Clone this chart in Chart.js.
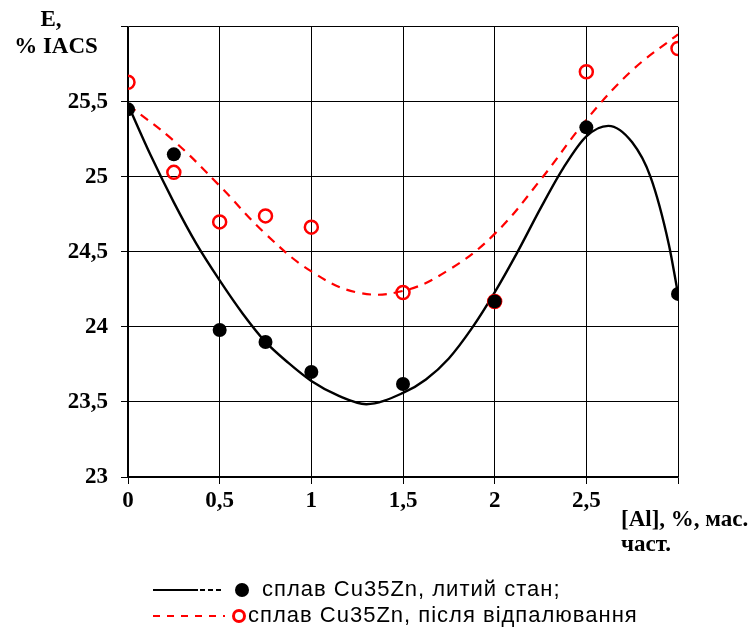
<!DOCTYPE html>
<html>
<head>
<meta charset="utf-8">
<script src="https://cdn.jsdelivr.net/npm/chart.js@4.4.1/dist/chart.umd.min.js"></script>
<style>
  html, body { margin: 0; padding: 0; background: #fff; }
  #wrap { width: 753px; height: 633px; }
</style>
</head>
<body>
<div id="wrap"><canvas id="chart" width="753" height="633"></canvas></div>
<script>
// measured points, [Al] wt.% vs E (% IACS)
var alContent = [0, 0.25, 0.5, 0.75, 1, 1.5, 2, 2.5, 3];
var eCast     = [25.45, 25.15, 23.98, 23.90, 23.70, 23.62, 24.17, 25.33, 24.22];
var eAnnealed = [25.63, 25.03, 24.70, 24.74, 24.665, 24.23, 24.17, 25.70, 25.855];

// trend curves
var trendCastX = [0, 0.125, 0.25, 0.375, 0.5, 0.625, 0.75, 0.875, 1, 1.15, 1.3, 1.5, 1.625, 1.75, 1.875, 2, 2.125, 2.25, 2.375, 2.5, 2.62, 2.75, 2.85, 2.95, 3];
var trendCastY = [25.48, 25.14, 24.83, 24.55, 24.31, 24.09, 23.9, 23.76, 23.64, 23.54, 23.485, 23.56, 23.65, 23.79, 23.99, 24.23, 24.5, 24.79, 25.06, 25.27, 25.34, 25.23, 25.0, 24.55, 24.22];
var trendAnnX = [0, 0.25, 0.5, 0.75, 1, 1.25, 1.5, 1.75, 2, 2.25, 2.5, 2.75, 3];
var trendAnnY = [25.48, 25.24, 24.94, 24.62, 24.37, 24.23, 24.24, 24.38, 24.62, 24.98, 25.38, 25.71, 25.95];

var yTicks = [23, 23.5, 24, 24.5, 25, 25.5, 26];

var legendLabels = ['сплав Cu35Zn, литий стан;', 'сплав Cu35Zn, після відпалювання'];
var yTitle = ['E,', '% IACS'];
var xTitle = ['[Al], %, мас.', 'част.'];

function pairs(xs, ys) {
  return xs.map(function (x, i) { return { x: x, y: ys[i] }; });
}

function fmt(v) {
  return String(v).replace('.', ',');
}

var serif = '"Liberation Serif", "Times New Roman", serif';
var sans = '"Liberation Sans", Arial, sans-serif';

var extras = {
  id: 'extras',
  afterDraw: function (chart) {
    var ctx = chart.ctx;
    ctx.save();
    ctx.fillStyle = '#000';
    ctx.font = 'bold 23px ' + serif;
    ctx.textBaseline = 'middle';
    ctx.textAlign = 'center';
    ctx.fillText(yTitle[0], 51, 20);
    ctx.fillText(yTitle[1], 56, 47);
    ctx.textAlign = 'left';
    ctx.fillText(xTitle[0], 621, 520);
    ctx.fillText(xTitle[1], 621, 545);

    // legend
    var rows = [590, 616];
    ctx.lineWidth = 2;
    ctx.strokeStyle = '#000';
    ctx.beginPath();
    ctx.moveTo(153, rows[0]); ctx.lineTo(198, rows[0]);
    ctx.stroke();
    ctx.setLineDash([5, 3]);
    ctx.beginPath();
    ctx.moveTo(200, rows[0]); ctx.lineTo(223, rows[0]);
    ctx.stroke();
    ctx.beginPath();
    ctx.arc(242, rows[0], 7, 0, Math.PI * 2);
    ctx.fill();

    ctx.strokeStyle = '#ff0000';
    ctx.setLineDash([7, 7]);
    ctx.beginPath();
    ctx.moveTo(153, rows[1]); ctx.lineTo(225, rows[1]);
    ctx.stroke();
    ctx.setLineDash([]);
    ctx.lineWidth = 3;
    ctx.beginPath();
    ctx.arc(239, rows[1], 5.5, 0, Math.PI * 2);
    ctx.stroke();

    ctx.fillStyle = '#000';
    ctx.font = '22px ' + sans;
    ctx.letterSpacing = '1px';
    ctx.fillText(legendLabels[0], 262, rows[0]);
    ctx.fillText(legendLabels[1], 248, rows[1]);
    ctx.restore();
  }
};

var ctx = document.getElementById('chart').getContext('2d');
new Chart(ctx, {
  type: 'scatter',
  data: {
    datasets: [
      {
        label: legendLabels[0],
        data: pairs(alContent, eCast),
        pointRadius: 7,
        pointHoverRadius: 7,
        pointBackgroundColor: '#000',
        pointBorderColor: '#000',
        pointBorderWidth: 0,
        order: 0
      },
      {
        label: legendLabels[1],
        data: pairs(alContent, eAnnealed),
        pointRadius: 6.5,
        pointHoverRadius: 6.5,
        pointBackgroundColor: 'rgba(0,0,0,0)',
        pointBorderColor: '#ff0000',
        pointBorderWidth: 2.5,
        order: 1
      },
      {
        label: 'trend cast',
        data: pairs(trendCastX, trendCastY),
        showLine: true,
        pointRadius: 0,
        borderColor: '#000',
        borderWidth: 2.4,
        cubicInterpolationMode: 'monotone',
        order: 2
      },
      {
        label: 'trend annealed',
        data: pairs(trendAnnX, trendAnnY),
        showLine: true,
        pointRadius: 0,
        borderColor: '#ff0000',
        borderWidth: 2.2,
        borderDash: [9, 7],
        tension: 0.4,
        order: 3
      }
    ]
  },
  options: {
    responsive: false,
    animation: false,
    events: [],
    layout: { padding: { top: 22, right: 75, bottom: 116, left: 0 } },
    plugins: {
      legend: { display: false },
      tooltip: { enabled: false }
    },
    scales: {
      x: {
        type: 'linear',
        min: 0,
        max: 3,
        afterFit: function (scale) { scale.height = 40; },
        ticks: {
          stepSize: 0.5,
          padding: 3,
          color: '#000',
          font: { family: serif, size: 23, weight: 'bold' },
          maxRotation: 0,
          callback: function (v) { return v === 3 ? '' : fmt(v); }
        },
        grid: { color: '#000', lineWidth: 1, tickLength: 7, tickColor: '#000' },
        border: { color: '#000', width: 1.5 }
      },
      y: {
        type: 'linear',
        min: 23,
        max: 26,
        afterFit: function (scale) { scale.width = 128; },
        afterBuildTicks: function (scale) {
          scale.ticks = yTicks.map(function (v) { return { value: v }; });
        },
        ticks: {
          padding: 13,
          color: '#000',
          font: { family: serif, size: 23, weight: 'bold' },
          callback: function (v) { return v === 26 ? '' : fmt(v); }
        },
        grid: { color: '#000', lineWidth: 1, tickLength: 7, tickColor: '#000' },
        border: { color: '#000', width: 1.5 }
      }
    }
  },
  plugins: [extras]
});
</script>
</body>
</html>
